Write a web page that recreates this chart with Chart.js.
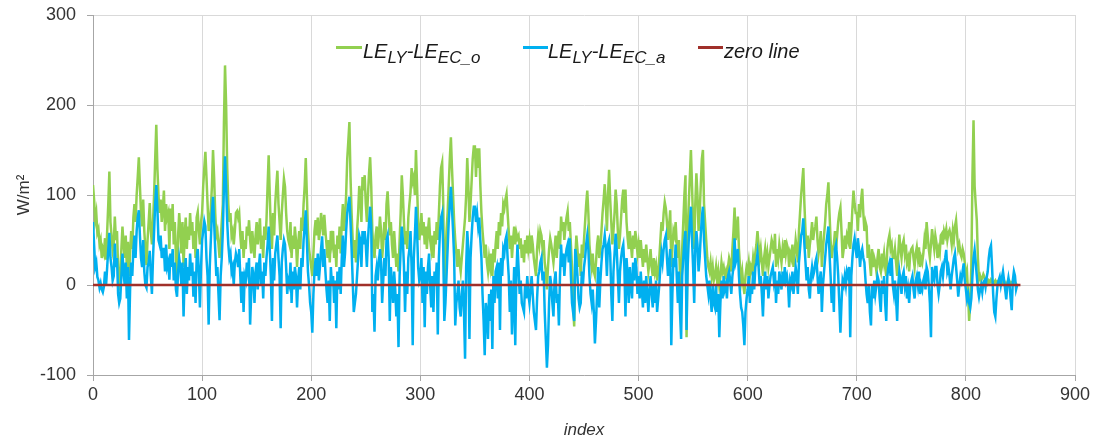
<!DOCTYPE html>
<html>
<head>
<meta charset="utf-8">
<title>LE differences</title>
<script src="https://cdn.jsdelivr.net/npm/chart.js@4.4.1/dist/chart.umd.min.js"></script>
<style>
  html, body { margin: 0; padding: 0; background: #fff; }
  #wrap { position: relative; width: 1099px; height: 442px; }
  .leg-line { position: absolute; height: 3px; top: 46px; }
  .leg-text {
    position: absolute; top: 41px; line-height: 20px; white-space: nowrap;
    font-family: "Liberation Sans", Arial, sans-serif; font-size: 20px; font-style: italic; color: #1a1a1a;
  }
  .leg-text sub { font-size: 17px; vertical-align: -5px; line-height: 0; }
</style>
</head>
<body>
<div id="wrap">
  <canvas id="chartLE"></canvas>
  <div class="leg-line" style="left:336px;width:26px;background:#92D050;"></div>
  <div class="leg-text" style="left:363px;">LE<sub>LY</sub>-LE<sub>EC_o</sub></div>
  <div class="leg-line" style="left:523px;width:25px;background:#00B0F0;"></div>
  <div class="leg-text" style="left:548px;">LE<sub>LY</sub>-LE<sub>EC_a</sub></div>
  <div class="leg-line" style="left:698px;width:25px;background:#A0302A;"></div>
  <div class="leg-text" style="left:724px;">zero line</div>
</div>
<script>
// ============================================================
// LE_LY - LE_EC differences by index (W/m2)
// ============================================================

// LE_LY - LE_EC_o, one value per index (0..847)
const diffEcO = [
  111, 95, 72, 80, 58, 62, 45, 50, 30, 40,
  35, 52, 28, 60, 90, 126, 70, 55, 38, 45,
  76, 50, 60, 20, -6, 10, 40, 65, 45, 30,
  55, 20, 48, 10, 35, 60, 40, 75, 90, 70,
  100, 120, 142, 110, 80, 65, 95, 60, 40, 22,
  50, 70, 91, 60, 45, 70, 100, 140, 178, 130,
  100, 80, 95, 70, 85, 105, 60, 90, 75, 80,
  40, 85, 60, 90, 45, 70, 30, 7, 55, 80,
  60, 35, 70, 20, 55, 75, 40, 65, 50, 80,
  55, 70, 40, 60, 30, 75, 81, 60, 45, 70,
  80, 110, 130, 148, 120, 90, 60, 70, 85, 110,
  150, 120, 80, 55, 60, 45, 30, 50, 70, 90,
  180, 244, 200, 130, 90, 70, 80, 55, 60, 45,
  60, 80, 82, 75, 80, 55, 40, 60, 30, 50,
  40, 65, 55, 72, 50, 35, 60, 45, 30, 55,
  70, 45, 60, 74, 40, 55, 30, 65, 50, 72,
  110, 144, 100, 60, 40, 80, 55, 90, 110, 127,
  90, 70, 50, 80, 100, 118, 109, 80, 60, 50,
  45, 70, 30, 55, 40, 65, 50, 20, 45, 60,
  40, 75, 60, 90, 110, 141, 100, 60, 40, 30,
  20, 10, 35, 60, 72, 55, 75, 50, 60, 80,
  70, 55, 78, 60, 45, 30, 50, 25, 60, 48,
  60, 30, 45, 20, 55, 40, 65, 35, 70, 90,
  60, 75, 100, 140, 160, 181, 120, 80, 50, 30,
  50, 25, 60, 80, 110, 100, 70, 120, 105, 122,
  90, 70, 100, 125, 142, 110, 60, 40, 30, 55,
  65, 40, 55, 76, 60, 30, 45, 70, 50, 90,
  104, 80, 55, 70, 45, 30, 60, 40, 20, 35,
  15, 50, 80, 122, 100, 70, 45, 60, 40, 75,
  90, 103, 130, 115, 120, 100, 150, 110, 70, 50,
  60, 80, 55, 70, 45, 65, 40, 60, 75, 50,
  40, 55, 30, 60, 45, 70, 50, 80, 110, 130,
  136, 90, -10, 30, 60, 80, 110, 140, 164, 130,
  100, 70, 50, 35, 20, 40, 25, 15, 30, 45,
  60, 75, 100, 141, 110, 70, 90, 115, 140, 154,
  154, 120, 152, 130, 152, 110, 80, 60, 45, 30,
  45, 25, 15, 30, 20, 35, 10, 40, 25, 45,
  60, 40, 70, 55, 80, 65, 90, 85, 95, 101,
  80, 60, 40, 55, 30, 50, 65, 45, 58, 52,
  55, 40, 52, 30, 45, 25, 50, 35, 55, 40,
  50, 35, 55, 45, 30, 20, 10, 40, 55, 45,
  60, 55, 40, 50, 25, 15, -5, 20, 40, 52,
  45, 35, 25, 40, 55, 30, 50, 60, 40, 76,
  60, 70, 50, 65, 75, 82, 60, 70, 45, 20,
  -20, -46, 30, 55, 40, 20, 35, 10, 45, 30,
  50, 70, 90, 105, 80, 45, 30, 20, 35, 15,
  10, 25, 45, 55, 30, 40, 60, 80, 95, 112,
  90, 60, 100, 128, 95, 70, 45, 60, 80, 106,
  90, 60, 40, 55, 75, 95, 106, 80, 106, 70,
  52, 40, 60, 45, 30, 55, 40, 60, 50, 35,
  45, 30, 50, 35, 20, 40, 25, 45, 30, 15,
  25, 40, 20, 10, 30, 15, 22, 5, 15, 30,
  50, 70, 60, 80, 92, 85, 70, 50, 65, 83,
  20, 40, 60, 55, 70, 45, 30, 50, 10, -20,
  40, 70, 100, 122, -58, 60, 90, 120, 150, 110,
  70, 40, 90, 124, 100, 60, 80, 110, 140, 150,
  90, 70, 50, 30, 20, 15, 25, 10, 20, 5,
  10, 20, 5, 15, 0, 10, 25, 15, 20, 10,
  15, 5, 20, 30, 25, 15, 40, 60, 86, 50,
  60, 76, 40, 20, 5, 15, 0, -10, 10, 20,
  15, 25, 10, 20, 15, 30, 20, 35, 45, 60,
  45, 30, 40, 25, 10, 30, 40, 25, 35, 20,
  30, 40, 50, 45, 35, 57, 20, 40, 30, 45,
  35, 25, 40, 30, 50, 35, 45, 40, 20, 35,
  30, 45, 20, 35, 50, 40, 25, 60, 80, 100,
  115, 130, 90, 60, 40, 55, 30, 45, 55, 70,
  50, 60, 65, 76, 50, 35, 45, 60, 20, 40,
  55, 70, 90, 100, 114, 80, 50, 30, 40, 45,
  60, 40, 55, 70, 80, 86, 60, 30, 40, 55,
  40, 55, 50, 70, 40, 60, 85, 105, 90, 80,
  80, 60, 90, 75, 95, 107, 80, 60, 70, 65,
  30, 45, 25, 10, 40, 20, 30, 25, 15, 30,
  40, 20, 15, 35, 25, 35, 20, 10, 40, 50,
  56, 40, 45, 30, 30, 40, 25, 10, 35, 56,
  40, 30, 45, 50, 35, 45, 25, 30, 15, 35,
  40, 42, 30, 20, 35, 42, 30, 42, 20, 30,
  25, 35, 50, 40, 70, 55, 40, 30, 45, 62,
  50, 40, 55, 47, 30, 40, 35, 55, 57, 45,
  60, 55, 62, 50, 58, 61, 55, 45, 60, 50,
  65, 72, 55, 40, 45, 35, 31, 40, 35, 25,
  9, 15, -10, -40, -20, 20, 120, 183, 110, 90,
  72, 30, 6, 10, 5, 8, 12, 9, 4, 6,
  2, 5, 3, 6, 4, 0, 3, 5, 2, 4,
  3, 2, 4, 1, 3, 5, 2, 0, 3, 2,
  4, 1, 3, 2, 4, 3, 1, 2
];

// LE_LY - LE_EC_a, one value per index (0..847)
const diffEcA = [
  70, 45, 20, 25, 9, 5, -3, 2, -5, -8,
  -2, 15, 0, 20, 40, 58, 30, 20, 5, 10,
  46, 20, 30, -10, -20, -15, 10, 35, 15, 0,
  25, -15, 20, -61, -5, 25, 10, 40, 55, 30,
  60, 75, 83, 55, 30, 20, 50, 15, 0, -3,
  20, 25, 38, 10, -10, 30, 60, 90, 111, 85,
  50, 45, 55, 30, 40, 40, 15, 45, 20, 25,
  6, 35, 20, 40, 5, 25, -5, -13, 15, 30,
  20, 0, 25, -35, 10, 30, -10, 20, 5, 35,
  10, 25, -13, 15, -20, 30, 40, 15, -25, 20,
  50, 60, 71, 65, 30, 10, -44, 20, 50, 80,
  98, 70, 40, 10, 20, -10, -39, 10, 30, 60,
  110, 143, 110, 70, 45, 30, 35, 15, 20, 0,
  25, 35, 30, 20, 40, 10, -20, 15, -30, 10,
  5, 25, 15, 30, -44, -10, 20, 10, -20, 15,
  25, -5, 20, 35, 0, 15, -15, 25, 10, 30,
  45, 65, 40, 10, -40, 30, 5, 35, 45, 55,
  30, 10, -48, 25, 40, 50, 45, 20, -10, 5,
  0, 25, -20, 15, -5, 20, 10, -25, 5, 20,
  -5, 30, 20, 50, 65, 83, 50, 15, 0, -20,
  -30, -53, -10, 15, 30, 10, 35, 5, 20, 40,
  54, 20, 40, 15, -5, -20, 5, -40, 20, 0,
  10, -20, 5, -48, 15, -5, 20, -10, 30, 55,
  20, 35, 60, 80, 90, 98, 70, 40, 5, -30,
  -20, -10, 10, 30, 55, 50, 20, 60, 45, 60,
  45, 20, 50, 70, 87, 65, -30, -10, -52, 10,
  20, 5, 25, 40, 25, -20, 5, 30, 10, 50,
  55, 30, -40, 20, 0, -20, 15, -5, -35, -10,
  -69, 10, 40, 65, 50, 20, -30, 15, -10, 30,
  40, 60, 20, -67, 30, 55, 87, 60, 20, 5,
  10, 30, -20, 20, -47, 15, -10, 20, 35, 0,
  -25, 10, -30, 15, 0, 25, -55, 30, 60, 75,
  80, 40, -40, -20, 10, 40, 70, 90, 109, 85,
  60, 30, -45, -20, -10, 5, -25, -35, -10, 5,
  -30, -82, 20, 60, 40, -60, 30, 55, 75, 87,
  87, 70, 80, 65, 75, 50, 30, -10, -40, -78,
  -20, -30, -60, -10, -40, -5, -71, 10, -20, 15,
  20, -15, 25, -50, 30, 10, 40, 35, 50, 55,
  30, 10, -30, 5, -55, -20, 20, -67, 10, 45,
  20, -10, 5, -20, -25, -30, 0, -15, 10, -10,
  -20, -5, 10, -10, -30, -40, -50, -15, 10, 15,
  25, 30, 5, 15, -30, -60, -92, -67, -20, 10,
  0, -20, -35, 5, 15, -20, -10, -45, 10, 45,
  20, 35, 10, 30, 40, 45, 25, 52, 10, -20,
  -30, -40, 40, 30, 10, -15, -25, -20, 15, 0,
  20, 30, 45, 55, 40, 10, -10, -20, -5, -30,
  -65, -40, -10, 20, -25, 5, 25, 40, 45, 55,
  40, 10, 45, 50, 35, -10, -40, 15, 35, 57,
  40, 10, -20, 15, 30, 40, 45, 20, -35, 30,
  10, -20, 20, 0, -15, 25, 5, 30, 20, -10,
  10, -15, 15, -5, -25, 5, -20, 10, -10, -30,
  -5, 10, -10, -25, 0, -20, 5, -30, -15, 0,
  20, 35, 25, 40, 50, 55, 30, 10, 25, 40,
  -67, -10, 30, 20, 45, 10, -20, 15, -30, -60,
  10, 30, 50, 60, -50, 20, 50, 70, 87, 50,
  20, -20, 40, 60, 45, 15, 30, 55, 75, 87,
  50, 30, 10, 0, -10, 5, -15, -30, 0, -20,
  -25, 0, -30, -10, -58, -20, 5, -15, 10, -5,
  0, -15, 10, 15, 5, -10, 10, 20, 52, 25,
  30, 40, 10, -10, -25, -30, -45, -67, -30, -15,
  -5, 10, -20, 0, -10, 15, -5, 20, 25, 35,
  20, 0, 10, -10, -35, 0, 15, -5, 10, -15,
  0, 10, 15, 20, 5, 15, -20, 5, -10, 15,
  5, -5, 15, 0, 20, 5, 10, 0, -25, 5,
  0, 15, -10, 5, 20, 10, -10, 25, 40, 55,
  60, 74, 45, 25, 5, 20, -5, -15, 10, 20,
  10, 15, 25, 30, 10, -10, 5, 15, -30, 0,
  15, 30, 45, 55, 65, 35, 10, -20, 0, -30,
  40, 45, 30, 10, -20, -53, -20, 5, 0, 10,
  0, 15, 10, 20, -58, 10, 30, 45, 52, 40,
  30, 52, 40, 20, 35, 40, 30, 25, 5, -10,
  -20, 0, -30, -45, 0, -15, 5, -10, 0, 10,
  5, -15, -30, 5, -10, 10, -20, -40, 10, 20,
  25, 10, 30, 0, -10, 5, -15, -40, 0, 15,
  5, -10, 10, 15, 0, 10, -15, -5, -20, 0,
  5, 10, -5, -15, 5, 10, 0, 15, -10, 0,
  -5, 5, 10, -5, 20, 15, 0, -20, -58, 20,
  10, 5, 20, 20, 0, -10, 0, 15, 20, 10,
  24, 30, 39, 15, 20, 10, -5, 10, 20, 30,
  35, 20, 5, -13, 0, 10, 5, 15, 24, 5,
  -5, -16, -10, -20, -25, -15, 10, 30, 39, 25,
  10, -5, -13, -5, 0, -8, 3, 5, -2, 8,
  15, 30, 40, 44, 20, -10, -30, -35, -15, 0,
  5, 9, 0, 8, 15, 5, -5, -16, 0, 8,
  0, -15, -28, 5, 15, 10, -5, 0
];

// zero reference line
const zeroIndex = [0, 850];
const zeroValue = [0, 0];

// axis ticks
const xTicks = [0, 100, 200, 300, 400, 500, 600, 700, 800, 900];
const yTicks = [-100, 0, 100, 200, 300];

const FONT = '"Liberation Sans", Arial, sans-serif';

function toPoints(values) {
  return values.map((v, i) => ({ x: i, y: v }));
}

const ctx = document.getElementById('chartLE');
new Chart(ctx, {
  type: 'line',
  data: {
    datasets: [
      {
        label: 'zero line',
        data: zeroIndex.map((x, i) => ({ x, y: zeroValue[i] })),
        borderColor: '#A0302A',
        borderWidth: 2.5,
        pointRadius: 0,
        order: 1
      },
      {
        label: 'LE_LY-LE_EC_a',
        data: toPoints(diffEcA),
        borderColor: '#00B0F0',
        borderWidth: 2.5,
        pointRadius: 0,
        order: 2
      },
      {
        label: 'LE_LY-LE_EC_o',
        data: toPoints(diffEcO),
        borderColor: '#92D050',
        borderWidth: 2.5,
        pointRadius: 0,
        order: 3
      }
    ]
  },
  options: {
    responsive: true,
    maintainAspectRatio: false,
    animation: false,
    layout: { padding: { top: 15, right: 24, left: 0, bottom: 0 } },
    plugins: {
      legend: { display: false },
      tooltip: { enabled: false }
    },
    scales: {
      x: {
        type: 'linear',
        min: xTicks[0],
        max: xTicks[xTicks.length - 1],
        afterBuildTicks: (s) => { s.ticks = xTicks.map(v => ({ value: v })); },
        afterFit: (s) => { s.height = 67; },
        ticks: { color: '#333', font: { family: FONT, size: 18 }, padding: 3, maxRotation: 0 },
        grid: { color: '#D9D9D9', tickColor: '#A6A6A6', tickLength: 6 },
        border: { color: '#A6A6A6' },
        title: {
          display: true, text: 'index', color: '#333',
          font: { family: FONT, size: 17, style: 'italic' }, padding: { top: 0, bottom: 2 }
        }
      },
      y: {
        min: yTicks[0],
        max: yTicks[yTicks.length - 1],
        afterBuildTicks: (s) => { s.ticks = yTicks.map(v => ({ value: v })); },
        afterFit: (s) => { s.width = 93; s.paddingTop = 0; s.paddingBottom = 0; },
        ticks: { color: '#333', font: { family: FONT, size: 18 }, padding: 11 },
        grid: { color: '#D9D9D9', tickColor: '#A6A6A6', tickLength: 6 },
        border: { color: '#A6A6A6' },
        title: {
          display: true, text: 'W/m²', color: '#333',
          font: { family: FONT, size: 17 }, padding: { top: 14, bottom: 0 }
        }
      }
    }
  }
});
</script>
</body>
</html>
